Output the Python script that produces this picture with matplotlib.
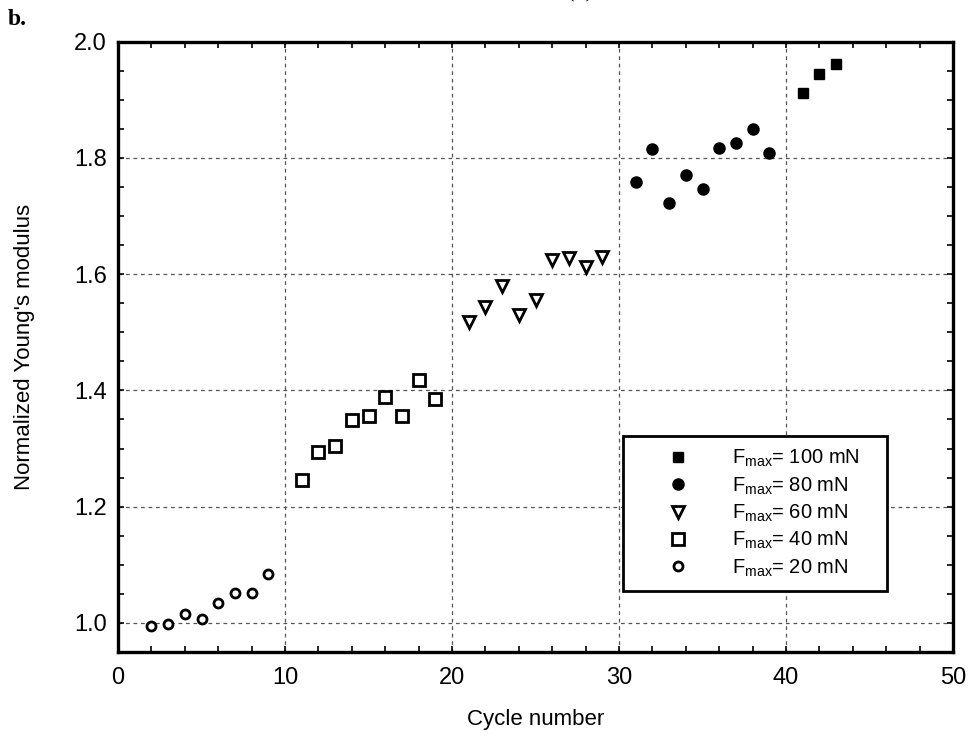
import matplotlib
matplotlib.use('Agg')
import matplotlib.pyplot as plt
import numpy as np

plt.rcParams['font.family'] = ['Liberation Sans', 'DejaVu Sans']
plt.rcParams['mathtext.fontset'] = 'custom'
plt.rcParams['mathtext.rm'] = 'Liberation Sans'
plt.rcParams['mathtext.it'] = 'Liberation Sans'

# cycle number and normalized Young's modulus for each max load
cyc_20 = [2, 3, 4, 5, 6, 7, 8, 9]
e_20 = [0.995, 0.999, 1.015, 1.006, 1.034, 1.051, 1.052, 1.085]
cyc_40 = [11, 12, 13, 14, 15, 16, 17, 18, 19]
e_40 = [1.246, 1.294, 1.305, 1.349, 1.356, 1.389, 1.356, 1.418, 1.386]
cyc_60 = [21, 22, 23, 24, 25, 26, 27, 28, 29]
e_60 = [1.517, 1.544, 1.580, 1.530, 1.555, 1.624, 1.628, 1.612, 1.629]
cyc_80 = [31, 32, 33, 34, 35, 36, 37, 38, 39]
e_80 = [1.758, 1.815, 1.722, 1.771, 1.747, 1.817, 1.825, 1.849, 1.809]
cyc_100 = [41, 42, 43]
e_100 = [1.912, 1.945, 1.961]

labels = [r'F$_{\mathrm{max}}$= 100 mN', r'F$_{\mathrm{max}}$= 80 mN',
          r'F$_{\mathrm{max}}$= 60 mN', r'F$_{\mathrm{max}}$= 40 mN',
          r'F$_{\mathrm{max}}$= 20 mN']

fig = plt.figure(figsize=(9.72, 7.51), dpi=100)
ax = fig.add_axes([0.1214, 0.1318, 0.8591, 0.8129])

ax.plot(cyc_100, e_100, 's', color='black', ms=7, label=labels[0])
ax.plot(cyc_80, e_80, 'o', color='black', ms=8, label=labels[1])
ax.plot(cyc_60, e_60, 'v', mfc='white', mec='black', mew=2, ms=8, label=labels[2])
ax.plot(cyc_40, e_40, 's', mfc='white', mec='black', mew=2, ms=8, label=labels[3])
ax.plot(cyc_20, e_20, 'o', mfc='white', mec='black', mew=2, ms=6.5, label=labels[4])

ax.set_xlim(0, 50)
ax.set_ylim(0.952, 2.0)
ax.set_xticks(np.arange(0, 51, 10))
ax.set_xticks(np.arange(0, 51, 2), minor=True)
ax.set_yticks([1.0, 1.2, 1.4, 1.6, 1.8, 2.0])
ax.set_yticks(np.arange(0.95, 2.001, 0.05), minor=True)
ax.set_yticklabels(['1.0', '1.2', '1.4', '1.6', '1.8', '2.0'])

ax.tick_params(which='both', direction='in', top=True, right=True,
               labelsize=17, width=1.2, color='black', length=4)
ax.tick_params(axis='x', pad=11)
ax.tick_params(axis='y', pad=8)

ax.grid(True, which='major', color='#555555', linestyle=(0, (3, 3)), linewidth=0.9)
for s in ax.spines.values():
    s.set_linewidth(2.4)

ax.set_xlabel('Cycle number', fontsize=16, labelpad=14)
ax.set_ylabel("Normalized Young's modulus", fontsize=16, labelpad=28)

leg = ax.legend(loc='center', bbox_to_anchor=(0.593, 0.095, 0.34, 0.264),
                mode='expand', fontsize=14.5, frameon=True, fancybox=False,
                edgecolor='black', framealpha=1, handlelength=4.2,
                handletextpad=0.6, labelspacing=0.3, borderpad=0.6)
leg.get_frame().set_linewidth(2)

fig.text(0.008, 0.974, 'b.', fontsize=17, fontweight='bold',
         family='Liberation Serif', va='center', ha='left')
fig.text(0.597, 1.0 - 2.0 / 751, '(b)', fontsize=16, family='Liberation Serif',
         va='bottom', ha='center')

fig.savefig('out.png', dpi=100)
